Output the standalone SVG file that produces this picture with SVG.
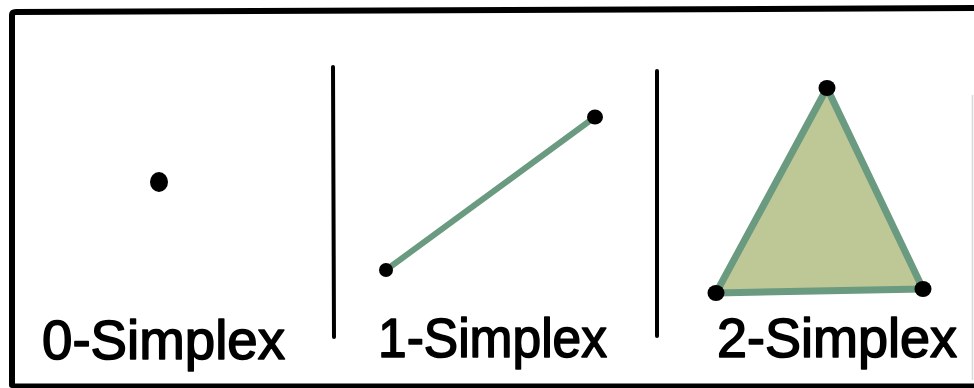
<svg xmlns="http://www.w3.org/2000/svg" width="974" height="388" viewBox="0 0 974 388">
<style>
.frame{fill:none;stroke:#000;stroke-width:6;stroke-linecap:round;stroke-linejoin:round}
.div{stroke:#000;stroke-width:4;stroke-linecap:round}
.edge{stroke:#6a9a80;stroke-width:6;stroke-linecap:round;stroke-linejoin:round}
.dot{fill:#000}
.lbl{font-family:"Liberation Sans","DejaVu Sans",sans-serif;font-size:56px;fill:#000;stroke:#000;stroke-width:1.6;stroke-linejoin:round}
</style>
<rect width="974" height="388" fill="#fff"/>
<g id="frame">
<path class="frame" d="M12,385 L12,15 Q12,12 16,12 L974,8"/>
<line x1="12" y1="386" x2="974" y2="386" stroke="#000" stroke-width="5"/>
<line x1="972.5" y1="95" x2="972.5" y2="380" stroke="#d8d8d8" stroke-width="1.5"/>
<line class="div" x1="333" y1="67" x2="334" y2="337"/>
<line class="div" x1="657" y1="71" x2="657" y2="336"/>
</g>
<g id="simplex0">
<ellipse class="dot" cx="159" cy="182" rx="9" ry="10"/>
<text class="lbl" x="42" y="359" textLength="243" lengthAdjust="spacingAndGlyphs">0-Simplex</text>
</g>
<g id="connectors">
<line class="edge" x1="386" y1="270" x2="595" y2="117"/>
</g>
<g id="simplex1">
<ellipse class="dot" cx="386" cy="270" rx="7" ry="7"/>
<ellipse class="dot" cx="595" cy="117" rx="8" ry="7.5"/>
<text class="lbl" x="378" y="357" textLength="229" lengthAdjust="spacingAndGlyphs">1-Simplex</text>
</g>
<g id="simplex2">
<polygon points="827,88 716,293 923,289" fill="#bec796" stroke="#6a9a80" stroke-width="7" stroke-linejoin="round"/>
<ellipse class="dot" cx="827" cy="88" rx="8.5" ry="8"/>
<ellipse class="dot" cx="716" cy="293" rx="8.5" ry="8"/>
<ellipse class="dot" cx="923" cy="289" rx="8.5" ry="8"/>
<text class="lbl" x="717" y="357" textLength="240" lengthAdjust="spacingAndGlyphs">2-Simplex</text>
</g>
</svg>
